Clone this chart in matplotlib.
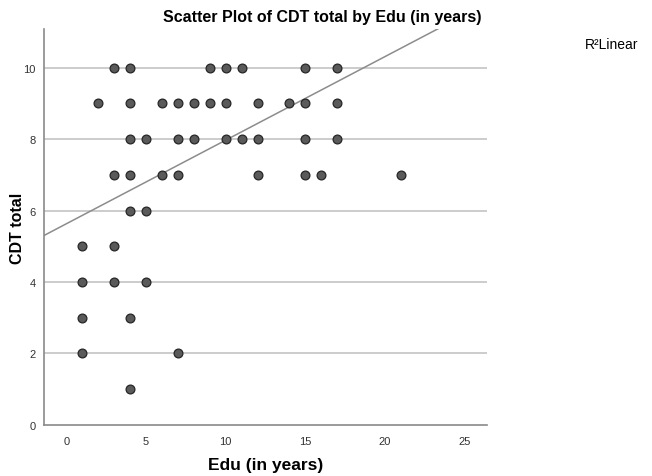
import numpy as np
import matplotlib.pyplot as plt

# points: (Edu in years, CDT total)
edu = [3, 4, 9, 10, 11, 15, 17,
       2, 4, 6, 7, 8, 9, 10, 12, 14, 15, 17,
       4, 5, 7, 8, 10, 11, 12, 15, 17,
       3, 4, 6, 7, 12, 15, 16, 21,
       4, 5,
       1, 3,
       1, 3, 5,
       1, 4,
       1, 7,
       4]
cdt = [10, 10, 10, 10, 10, 10, 10,
       9, 9, 9, 9, 9, 9, 9, 9, 9, 9, 9,
       8, 8, 8, 8, 8, 8, 8, 8, 8,
       7, 7, 7, 7, 7, 7, 7, 7,
       6, 6,
       5, 5,
       4, 4, 4,
       3, 3,
       2, 2,
       1]

# linear fit line as drawn in the chart
fit_intercept = 5.63
fit_slope = 0.234

x_ticks = [0, 5, 10, 15, 20, 25]
y_ticks = [0, 2, 4, 6, 8, 10]

plt.rcParams['font.family'] = ['Liberation Sans', 'DejaVu Sans']

fig = plt.figure(figsize=(6.52, 4.77), dpi=100)
ax = fig.add_axes([0.0675, 0.107, 0.6795, 0.830])

for yv in y_ticks[1:]:
    ax.axhline(yv, color='#c4c4c4', lw=1.2, zorder=1)

xs = np.array([-1.4, 26.4])
ax.plot(xs, fit_intercept + fit_slope * xs, color='#8c8c8c', lw=1.1, zorder=2)

ax.scatter(edu, cdt, s=40, c='#5a5a5a', edgecolors='#262626', linewidths=0.9, zorder=3)

ax.set_xlim(-1.4, 26.4)
ax.set_ylim(0, 11.08)
ax.set_xticks(x_ticks)
ax.set_yticks(y_ticks)
ax.tick_params(length=0, labelsize=8, colors='#333333', pad=6)
ax.tick_params(axis='x', pad=8)

for s in ['top', 'right']:
    ax.spines[s].set_visible(False)
for s in ['left', 'bottom']:
    ax.spines[s].set_color('#8a8a8a')
    ax.spines[s].set_linewidth(1.2)

ax.set_xlabel('Edu (in years)', fontsize=12.5, fontweight='bold')
ax.set_ylabel('CDT total', fontsize=11.5, fontweight='bold')
ax.xaxis.set_label_coords(0.5, -0.101)
ax.yaxis.set_label_coords(-0.059, 0.5)
ax.xaxis.label.set_va('center')
ax.yaxis.label.set_va('center')

fig.text(0.495, 0.963, 'Scatter Plot of CDT total by Edu (in years)',
         ha='center', va='center', fontsize=11.5, fontweight='bold')
fig.text(0.897, 0.905, 'R²Linear', ha='left', va='center', fontsize=10)

fig.savefig('out.png', dpi=100)
